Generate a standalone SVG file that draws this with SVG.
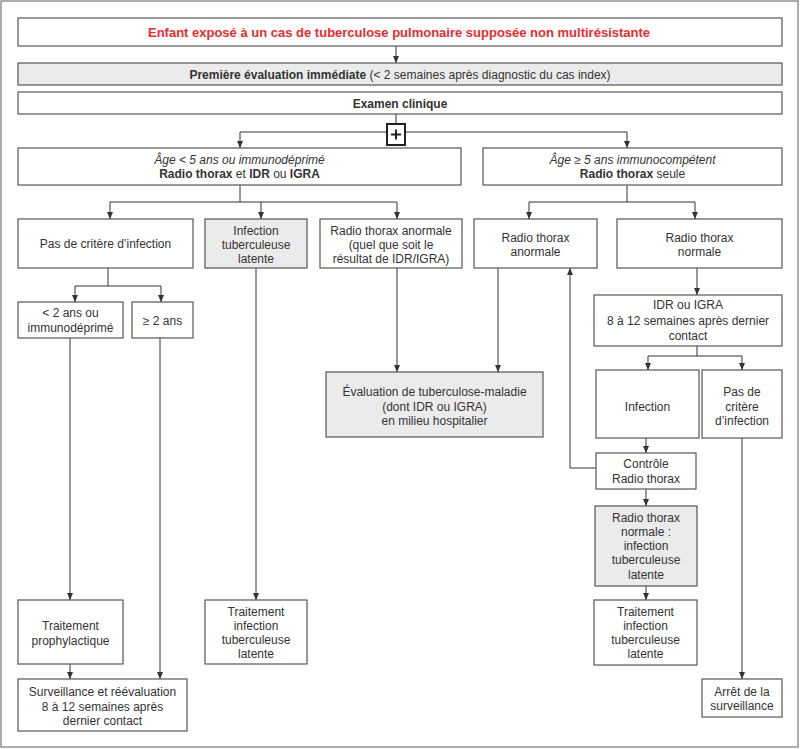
<svg xmlns="http://www.w3.org/2000/svg" width="800" height="749" viewBox="0 0 800 749">
<defs>
<marker id="ah" markerUnits="userSpaceOnUse" markerWidth="8" markerHeight="7" refX="7" refY="3" orient="auto">
<path d="M0,0 L7,3 L0,6 z" fill="#333"/>
</marker>
<style>
.box{fill:#fff;stroke:#555;stroke-width:1.2}
.grey{fill:#ebebeb;stroke:#555;stroke-width:1.2}
.t{font-family:"Liberation Sans",Arial,sans-serif;font-size:12px;fill:#333;text-anchor:middle}
.b{font-weight:bold}
.i{font-style:italic}
.title{font-family:"Liberation Sans",Arial,sans-serif;font-size:13px;font-weight:bold;fill:#e52d2f;text-anchor:middle}
.c{fill:none;stroke:#333;stroke-width:1}
.a{fill:none;stroke:#333;stroke-width:1;marker-end:url(#ah)}
</style>
</defs>
<rect x="1" y="1" width="797" height="746" fill="#fff" stroke="#777" stroke-width="1.2"/>

<g id="connectors">
<path class="a" d="M396,46 V63"/>
<path class="c" d="M396,114 V124"/>
<path class="a" d="M387,132 H240 V148"/>
<path class="a" d="M405,132 H627 V148"/>
<path class="c" d="M240,185 V202 M110,202 H397"/>
<path class="a" d="M110,202 V219"/>
<path class="a" d="M261,202 V219"/>
<path class="a" d="M397,202 V219"/>
<path class="c" d="M627,185 V202 M529,202 H695"/>
<path class="a" d="M529,202 V219"/>
<path class="a" d="M695,202 V219"/>
<path class="c" d="M108,268 V286 M75,286 H161"/>
<path class="a" d="M75,286 V302"/>
<path class="a" d="M161,286 V302"/>
<path class="a" d="M70,338 V600"/>
<path class="a" d="M160,338 V679"/>
<path class="a" d="M70,664 V679"/>
<path class="a" d="M256,268 V600"/>
<path class="a" d="M397,268 V372"/>
<path class="a" d="M498,268 V372"/>
<path class="a" d="M697,268 V295"/>
<path class="c" d="M697,346 V356 M648,356 H742"/>
<path class="a" d="M648,356 V370"/>
<path class="a" d="M742,356 V370"/>
<path class="a" d="M646,438 V453"/>
<path class="a" d="M596,468 H570 V268"/>
<path class="a" d="M646,489 V506"/>
<path class="a" d="M646,586 V600"/>
<path class="a" d="M742,438 V679"/>
</g>

<g id="n-title">
<rect class="box" x="18" y="18" width="764" height="28"/>
<text class="title" x="399" y="37">Enfant exposé à un cas de tuberculose pulmonaire supposée non multirésistante</text>
</g>
<g id="n-eval1">
<rect class="grey" x="18" y="63" width="764" height="22"/>
<text class="t" x="400" y="78.5"><tspan class="b">Première évaluation immédiate</tspan> (&lt; 2 semaines après diagnostic du cas index)</text>
</g>
<g id="n-examen">
<rect class="box" x="18" y="92" width="764" height="22"/>
<text class="t b" x="400" y="107.5">Examen clinique</text>
</g>
<g id="n-plus">
<rect x="387" y="124" width="18" height="21" fill="#fff" stroke="#222" stroke-width="2"/>
<path d="M396,129.5 V139.5 M391,134.5 H401" stroke="#222" stroke-width="2"/>
</g>
<g id="n-age5">
<rect class="box" x="18" y="148" width="443" height="37"/>
<text class="t" x="239.5" y="164"><tspan class="i">Âge &lt; 5 ans ou immunodéprimé</tspan></text>
<text class="t" x="239.5" y="178"><tspan class="b">Radio thorax</tspan> et <tspan class="b">IDR</tspan> ou <tspan class="b">IGRA</tspan></text>
</g>
<g id="n-age5plus">
<rect class="box" x="483" y="148" width="299" height="37"/>
<text class="t" x="632.5" y="164"><tspan class="i">Âge ≥ 5 ans immunocompétent</tspan></text>
<text class="t" x="632.5" y="178"><tspan class="b">Radio thorax</tspan> seule</text>
</g>
<g id="n-pascritere">
<rect class="box" x="18" y="219" width="175" height="49"/>
<text class="t" x="105.5" y="248">Pas de critère d’infection</text>
</g>
<g id="n-itl">
<rect class="grey" x="205" y="219" width="102" height="49"/>
<text class="t" x="256" y="235">Infection</text>
<text class="t" x="256" y="249">tuberculeuse</text>
<text class="t" x="256" y="263">latente</text>
</g>
<g id="n-rxanormale1">
<rect class="box" x="320" y="219" width="142" height="49"/>
<text class="t" x="391" y="235">Radio thorax anormale</text>
<text class="t" x="391" y="249">(quel que soit le</text>
<text class="t" x="391" y="263">résultat de IDR/IGRA)</text>
</g>
<g id="n-rxanormale2">
<rect class="box" x="474" y="219" width="123" height="49"/>
<text class="t" x="535.5" y="242">Radio thorax</text>
<text class="t" x="535.5" y="256">anormale</text>
</g>
<g id="n-rxnormale">
<rect class="box" x="617" y="219" width="165" height="49"/>
<text class="t" x="699.5" y="242">Radio thorax</text>
<text class="t" x="699.5" y="256">normale</text>
</g>
<g id="n-moins2">
<rect class="box" x="18" y="302" width="105" height="36"/>
<text class="t" x="70.5" y="317">&lt; 2 ans ou</text>
<text class="t" x="70.5" y="332">immunodéprimé</text>
</g>
<g id="n-plus2">
<rect class="box" x="132" y="302" width="61" height="36"/>
<text class="t" x="162.5" y="325">≥ 2 ans</text>
</g>
<g id="n-idr">
<rect class="box" x="594" y="295" width="188" height="51"/>
<text class="t" x="688" y="309">IDR ou IGRA</text>
<text class="t" x="688" y="325">8 à 12 semaines après dernier</text>
<text class="t" x="688" y="340">contact</text>
</g>
<g id="n-evalmaladie">
<rect class="grey" x="326" y="372" width="217" height="65"/>
<text class="t" x="434.5" y="396">Évaluation de tuberculose-maladie</text>
<text class="t" x="434.5" y="411">(dont IDR ou IGRA)</text>
<text class="t" x="434.5" y="425">en milieu hospitalier</text>
</g>
<g id="n-infection">
<rect class="box" x="596" y="370" width="103" height="68"/>
<text class="t" x="647.5" y="411">Infection</text>
</g>
<g id="n-pascritere2">
<rect class="box" x="702" y="370" width="80" height="68"/>
<text class="t" x="742" y="396">Pas de</text>
<text class="t" x="742" y="411">critère</text>
<text class="t" x="742" y="425">d’infection</text>
</g>
<g id="n-controle">
<rect class="box" x="596" y="453" width="100" height="36"/>
<text class="t" x="646" y="468">Contrôle</text>
<text class="t" x="646" y="483">Radio thorax</text>
</g>
<g id="n-rxnormaleitl">
<rect class="grey" x="595" y="506" width="102" height="80"/>
<text class="t" x="646" y="522">Radio thorax</text>
<text class="t" x="646" y="536">normale :</text>
<text class="t" x="646" y="550">infection</text>
<text class="t" x="646" y="564">tuberculeuse</text>
<text class="t" x="646" y="579">latente</text>
</g>
<g id="n-prophylaxie">
<rect class="box" x="18" y="600" width="105" height="64"/>
<text class="t" x="70.5" y="630">Traitement</text>
<text class="t" x="70.5" y="645">prophylactique</text>
</g>
<g id="n-traititl1">
<rect class="box" x="205" y="600" width="102" height="64"/>
<text class="t" x="256" y="616">Traitement</text>
<text class="t" x="256" y="630">infection</text>
<text class="t" x="256" y="644">tuberculeuse</text>
<text class="t" x="256" y="658">latente</text>
</g>
<g id="n-traititl2">
<rect class="box" x="594" y="600" width="103" height="65"/>
<text class="t" x="645.5" y="616">Traitement</text>
<text class="t" x="645.5" y="630">infection</text>
<text class="t" x="645.5" y="644">tuberculeuse</text>
<text class="t" x="645.5" y="658">latente</text>
</g>
<g id="n-surveillance">
<rect class="box" x="18" y="679" width="169" height="52"/>
<text class="t" x="102.5" y="696">Surveillance et réévaluation</text>
<text class="t" x="102.5" y="711">8 à 12 semaines après</text>
<text class="t" x="102.5" y="725">dernier contact</text>
</g>
<g id="n-arret">
<rect class="box" x="702" y="679" width="80" height="38"/>
<text class="t" x="742" y="696">Arrêt de la</text>
<text class="t" x="742" y="710">surveillance</text>
</g>
</svg>
